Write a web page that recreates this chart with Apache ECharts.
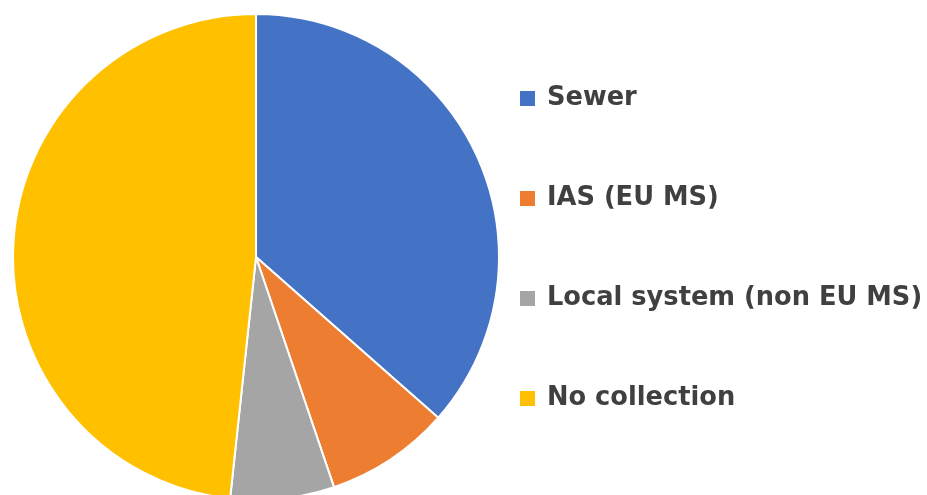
<!DOCTYPE html>
<html>
<head>
<meta charset="utf-8">
<script src="https://cdn.jsdelivr.net/npm/echarts@6/dist/echarts.min.js"></script>
<style>html,body{margin:0;padding:0;background:#fff}#c{width:927px;height:495px}</style>
</head>
<body>
<div id="c"></div>
<script>
const categories = ["Sewer", "IAS (EU MS)", "Local system (non EU MS)", "No collection"];
const values = [36.5, 8.3, 6.9, 48.3];
const colors = ["#4472C4", "#ED7D31", "#A5A5A5", "#FFC000"];

const chart = echarts.init(document.getElementById('c'));
chart.setOption({
  animation: false,
  color: colors,
  legend: {
    orient: 'vertical',
    left: 518,
    top: 82.5,
    padding: 0,
    itemWidth: 17,
    itemHeight: 17,
    itemGap: 68,
    icon: 'rect',
    textStyle: { fontFamily: 'DejaVu Sans', fontWeight: 'bold', fontSize: 25.7, lineHeight: 32, color: '#404040', padding: [0, 0, 0, 6] },
    data: categories
  },
  series: [{
    type: 'pie',
    center: [256, 257],
    radius: 243,
    startAngle: 90,
    clockwise: true,
    label: { show: false },
    labelLine: { show: false },
    itemStyle: { borderColor: '#fff', borderWidth: 2 },
    data: categories.map((c, i) => ({ name: c, value: values[i] }))
  }]
});
</script>
</body>
</html>
